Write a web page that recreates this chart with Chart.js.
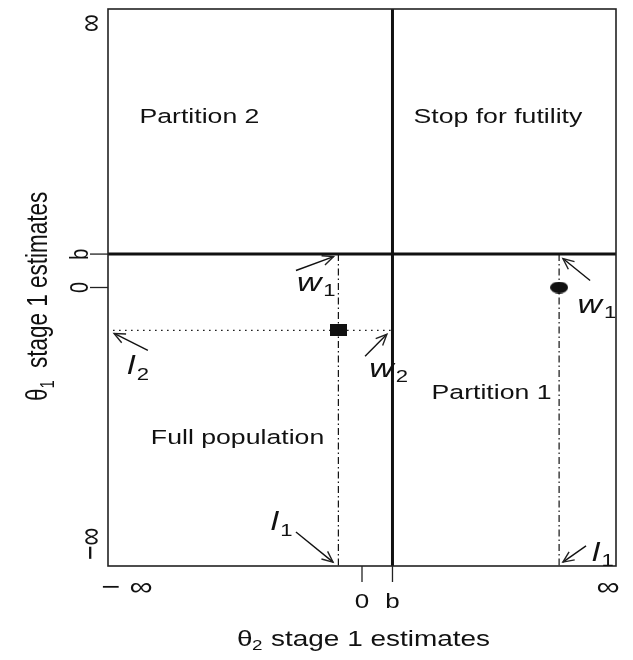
<!DOCTYPE html>
<html>
<head>
<meta charset="utf-8">
<script src="https://cdn.jsdelivr.net/npm/chart.js@4"></script>
<style>
  body { margin: 0; background: #fff; }
  #wrap { width: 633px; height: 660px; }
</style>
</head>
<body>
<div id="wrap"><canvas id="c" width="633" height="660"></canvas></div>
<script>
// axis range (infinity mapped to +/-10), boundary b
const xRange = [-10, 10];
const yRange = [-10, 10];
const b = 1.2;

// stage 1 estimates shown as marks
const squarePoint = [{ x: -0.93, y: -1.54 }];
const circlePoint = [{ x: 7.76, y: 0 }];

// region captions [text, x, y]
const regionLabels = [
    ['Partition 2', -6.4, 6.1],
    ['Stop for futility', 5.35, 6.1],
    ['Partition 1', 5.1, -3.8],
    ['Full population', -4.9, -5.4]
];

// arrows [tailX, tailY, headX, headY]
const arrows = [
    [-2.6, 0.61, -1.12, 1.11],
    [-8.43, -2.26, -9.76, -1.65],
    [0.12, -2.47, 0.98, -1.68],
    [-2.6, -8.78, -1.14, -9.86],
    [8.82, -9.28, 7.91, -9.86],
    [8.98, 0.25, 7.91, 1.04]
];

// arrow captions [letter, subscript, x, y]
const arrowLabels = [
    ['w', '1', -1.6, 0.15],
    ['l', '2', -8.95, -2.85],
    ['w', '2', 1.25, -2.95],
    ['l', '1', -3.3, -8.45],
    ['l', '1', 9.35, -9.55],
    ['w', '1', 9.45, -0.65]
];

// tick marks
const xTicks = [0, b];
const yTicks = [0, b];

const S = 1.3; // horizontal stretch of the lettering
const FONT = '"Liberation Sans", Arial, sans-serif';

function makeMark(w, h, round) {
    const cv = document.createElement('canvas');
    cv.width = w; cv.height = h;
    const g = cv.getContext('2d');
    g.fillStyle = '#111';
    if (round) {
        g.beginPath();
        g.ellipse(w / 2, h / 2, w / 2, h / 2, 0, 0, Math.PI * 2);
        g.fill();
    } else {
        g.fillRect(0, 0, w, h);
    }
    return cv;
}

const lineDs = (pts, width, dash) => ({
    data: pts,
    showLine: true,
    borderColor: '#111',
    borderWidth: width,
    borderDash: dash,
    pointRadius: 0,
    fill: false
});

const datasets = [
    lineDs([{ x: b, y: yRange[0] }, { x: b, y: yRange[1] }], 3, []),
    lineDs([{ x: xRange[0], y: b }, { x: xRange[1], y: b }], 3, []),
    lineDs([{ x: squarePoint[0].x, y: b }, { x: squarePoint[0].x, y: yRange[0] }], 1.2, [7, 3, 1.5, 3]),
    lineDs([{ x: circlePoint[0].x, y: b }, { x: circlePoint[0].x, y: yRange[0] }], 1.2, [7, 3, 1.5, 3]),
    lineDs([{ x: xRange[0] + 0.2, y: squarePoint[0].y }, { x: b - 0.05, y: squarePoint[0].y }], 1.3, [1.5, 4.5]),
    {
        data: squarePoint,
        pointStyle: makeMark(17, 12, false),
        pointRadius: 8
    },
    {
        data: circlePoint,
        pointStyle: makeMark(18, 12, true),
        pointRadius: 8
    }
];
arrows.forEach(a => datasets.push(lineDs([{ x: a[0], y: a[1] }, { x: a[2], y: a[3] }], 1.4, [])));

// text drawn with the same horizontal stretch as the reference
function txt(ctx, s, x, y, size, opts) {
    opts = opts || {};
    ctx.save();
    ctx.translate(x, y);
    ctx.scale(S, 1);
    if (opts.rot) ctx.rotate(-Math.PI / 2);
    ctx.font = (opts.style || '') + ' ' + size + 'px ' + FONT;
    ctx.textAlign = opts.align || 'center';
    ctx.textBaseline = opts.base || 'middle';
    ctx.fillText(s, 0, 0);
    const w = ctx.measureText(s).width;
    ctx.restore();
    return w;
}

const decor = {
    id: 'decor',
    afterDraw(chart) {
        const ctx = chart.ctx;
        const xs = chart.scales.x, ys = chart.scales.y;
        const ca = chart.chartArea;
        const px = v => xs.getPixelForValue(v);
        const py = v => ys.getPixelForValue(v);
        ctx.save();
        ctx.strokeStyle = '#222';
        ctx.fillStyle = '#111';
        ctx.lineWidth = 1.6;
        ctx.strokeRect(ca.left, ca.top, ca.right - ca.left, ca.bottom - ca.top);

        // arrow heads
        ctx.lineWidth = 1.4;
        arrows.forEach(a => {
            const x1 = px(a[0]), y1 = py(a[1]), x2 = px(a[2]), y2 = py(a[3]);
            const ang = Math.atan2(y2 - y1, x2 - x1);
            const len = 12, spread = 0.42;
            ctx.beginPath();
            ctx.moveTo(x2 - len * Math.cos(ang - spread), y2 - len * Math.sin(ang - spread));
            ctx.lineTo(x2, y2);
            ctx.lineTo(x2 - len * Math.cos(ang + spread), y2 - len * Math.sin(ang + spread));
            ctx.stroke();
        });

        // ticks
        ctx.lineWidth = 1.3;
        xTicks.forEach(v => {
            ctx.beginPath();
            ctx.moveTo(px(v), ca.bottom);
            ctx.lineTo(px(v), ca.bottom + 16);
            ctx.stroke();
        });
        yTicks.forEach(v => {
            ctx.beginPath();
            ctx.moveTo(ca.left, py(v));
            ctx.lineTo(ca.left - 18, py(v));
            ctx.stroke();
        });

        // region captions
        regionLabels.forEach(l => txt(ctx, l[0], px(l[1]), py(l[2]), 20.5));

        // arrow captions
        arrowLabels.forEach(l => {
            const x = px(l[2]), y = py(l[3]);
            txt(ctx, l[0], x, y, 26, { style: 'italic', align: 'right' });
            txt(ctx, l[1], x + 2, y + 8, 17, { align: 'left' });
        });

        // x tick labels
        txt(ctx, '0', px(0), 602, 20);
        txt(ctx, 'b', px(b), 602, 20);
        txt(ctx, '\u2212 \u221E', ca.left + 19, 588, 25);
        txt(ctx, '\u221E', ca.right - 8, 588, 25);

        // y tick labels (rotated)
        txt(ctx, '0', 88, py(0), 20, { rot: true, base: 'alphabetic' });
        txt(ctx, 'b', 88, py(b), 20, { rot: true, base: 'alphabetic' });
        txt(ctx, '\u221E', 92, 23, 25, { rot: true, base: 'middle' });
        txt(ctx, '\u2212\u221E', 92, 544, 25, { rot: true, base: 'middle' });

        // x axis title
        txt(ctx, '\u03B8', 237, 640, 21.5, { align: 'left' });
        txt(ctx, '2', 252, 646, 14.5, { align: 'left' });
        txt(ctx, 'stage 1 estimates', 271, 640, 21.5, { align: 'left' });

        // y axis title (rotated, reads bottom to top)
        ctx.save();
        ctx.translate(47, 401);
        ctx.scale(S, 1);
        ctx.rotate(-Math.PI / 2);
        ctx.textAlign = 'left';
        ctx.textBaseline = 'alphabetic';
        ctx.font = '22.5px ' + FONT;
        ctx.fillText('\u03B8', 0, 0);
        const tw = ctx.measureText('\u03B8').width;
        ctx.font = '15px ' + FONT;
        ctx.fillText('1', tw, 5);
        ctx.font = '22.5px ' + FONT;
        ctx.fillText('stage 1 estimates', 33, 0);
        ctx.restore();

        ctx.restore();
    }
};

new Chart(document.getElementById('c'), {
    type: 'scatter',
    data: { datasets: datasets },
    options: {
        responsive: false,
        animation: false,
        layout: { padding: { left: 108, right: 17, top: 8, bottom: 94 } },
        plugins: { legend: { display: false }, tooltip: { enabled: false } },
        scales: {
            x: { type: 'linear', display: false, min: xRange[0], max: xRange[1] },
            y: { type: 'linear', display: false, min: yRange[0], max: yRange[1] }
        }
    },
    plugins: [decor]
});
</script>
</body>
</html>
